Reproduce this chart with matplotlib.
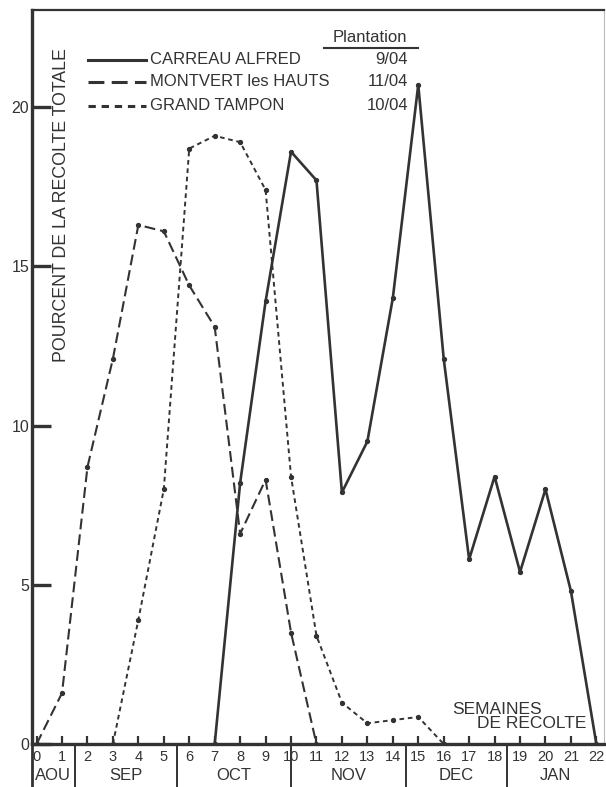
# Recolte hebdomadaire - trois sites
import numpy as np
import matplotlib
matplotlib.use("Agg")
import matplotlib.pyplot as plt
from matplotlib.lines import Line2D
from matplotlib.transforms import blended_transform_factory

plt.rcParams['font.family'] = ['Liberation Sans', 'DejaVu Sans']

# Données (pourcent de la récolte totale par semaine)
sem_carreau = [7, 8, 9, 10, 11, 12, 13, 14, 15, 16, 17, 18, 19, 20, 21, 22]
val_carreau = [0, 8.2, 13.9, 18.6, 17.7, 7.9, 9.5, 14.0, 20.7, 12.1, 5.8, 8.4, 5.4, 8.0, 4.8, 0]

sem_montvert = [0, 1, 2, 3, 4, 5, 6, 7, 8, 9, 10, 11]
val_montvert = [0, 1.6, 8.7, 12.1, 16.3, 16.1, 14.4, 13.1, 6.6, 8.3, 3.5, 0]

sem_tampon = [3, 4, 5, 6, 7, 8, 9, 10, 11, 12, 13, 14, 15, 16]
val_tampon = [0, 3.9, 8.0, 18.7, 19.1, 18.9, 17.4, 8.4, 3.4, 1.3, 0.65, 0.75, 0.85, 0]

noms = ["CARREAU ALFRED", "MONTVERT les HAUTS", "GRAND TAMPON"]
plantation = ["9/04", "11/04", "10/04"]

mois = ["AOU", "SEP", "OCT", "NOV", "DEC", "JAN"]
limites_mois = [-0.18, 1.5, 5.5, 10, 14.5, 18.5, 22.3]

semaines = np.arange(0, 23)
yticks = [0, 5, 10, 15, 20]

W, H = 606, 787
gris = '#333333'
fig = plt.figure(figsize=(W / 100, H / 100), dpi=100)
ax = fig.add_axes([32 / W, 43 / H, (604 - 32) / W, (744 - 10) / H])

def fx(px):
    return px / W

def fy(py):
    return 1 - py / H

styles = [
    dict(linestyle='-', linewidth=1.9),
    dict(linestyle=(0, (5.2, 2.4)), linewidth=1.5),
    dict(linestyle=(0, (2.4, 1.9)), linewidth=1.4),
]
series = [(sem_carreau, val_carreau), (sem_montvert, val_montvert), (sem_tampon, val_tampon)]
for (x, y), st in zip(series, styles):
    ax.plot(x, y, color=gris, marker='o', markersize=2.8, **st)

ax.set_xlim(limites_mois[0], limites_mois[-1])
ax.set_ylim(0, 23.05)
ax.set_xticks(semaines)
ax.set_xticklabels([str(s) for s in semaines], fontsize=10.5, color=gris)
ax.set_yticks(yticks)
ax.set_yticklabels([str(v) for v in yticks], fontsize=11.5, color=gris)
ax.tick_params(axis='x', direction='in', length=6, width=1.6, pad=4, color=gris)
ax.tick_params(axis='y', direction='in', length=14, width=2.4, pad=2, color=gris)

for side, lw in [('left', 2.4), ('bottom', 2.4), ('top', 1.6), ('right', 0.8)]:
    ax.spines[side].set_linewidth(lw)
    ax.spines[side].set_color(gris)
ax.spines['right'].set_color('#bbbbbb')

# séparations des mois sous l'axe
trans = blended_transform_factory(ax.transData, fig.transFigure)
for b in limites_mois[:-1]:
    ax.add_line(Line2D([b, b], [0, 43 / H], transform=trans, color=gris,
                       linewidth=2.0 if b == limites_mois[0] else 1.4, clip_on=False))
for i, m in enumerate(mois):
    xc = (limites_mois[i] + limites_mois[i + 1]) / 2
    ax.text(xc, fy(776), m, transform=trans, ha='center', va='center',
            fontsize=12, color=gris)

ax.set_ylabel("POURCENT DE LA RECOLTE TOTALE", fontsize=12.8, color=gris)
ax.yaxis.set_label_coords((62 - 32) / 572, (744 - 205) / 734)
ax.yaxis.label.set_verticalalignment('center')

# légende manuelle
ylig = [60, 82, 106]
for nom, date, st, yy in zip(noms, plantation, styles, ylig):
    fig.add_artist(Line2D([fx(88), fx(146)], [fy(yy), fy(yy)], color=gris,
                          linestyle=st['linestyle'], linewidth=2.2))
    fig.text(fx(150), fy(yy), nom, ha='left', va='center', fontsize=12, color=gris)
    fig.text(fx(408), fy(yy), date, ha='right', va='center', fontsize=12, color=gris)
fig.text(fx(370), fy(38), "Plantation", ha='center', va='center', fontsize=12, color=gris)
fig.add_artist(Line2D([fx(324), fx(418)], [fy(48), fy(48)], color=gris, linewidth=1.5))

fig.text(fx(497), fy(709), "SEMAINES", ha='center', va='center', fontsize=12.5, color=gris)
fig.text(fx(532), fy(724), "DE RECOLTE", ha='center', va='center', fontsize=12.5, color=gris)

fig.savefig("out.png", dpi=100)
